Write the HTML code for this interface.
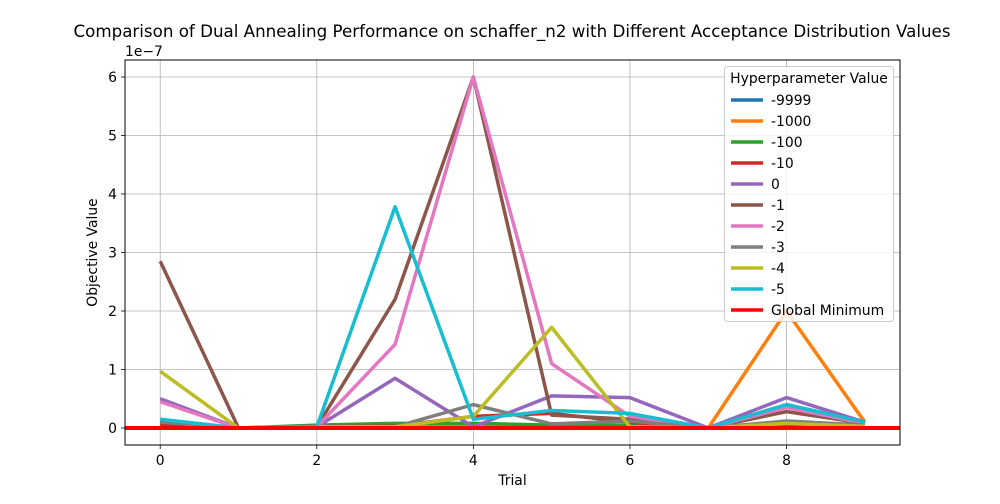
<!DOCTYPE html>
<html><head><meta charset="utf-8"><style>
body{margin:0;background:#fff;font-family:"DejaVu Sans","Liberation Sans",sans-serif}
svg text{font-family:"DejaVu Sans","Liberation Sans",sans-serif;fill:#000}
</style></head><body>
<svg id="chart" width="1000" height="500" xmlns="http://www.w3.org/2000/svg">
<rect width="1000" height="500" fill="#fff"/>
<text x="512" y="37" font-size="16.7" text-anchor="middle">Comparison of Dual Annealing Performance on schaffer_n2 with Different Acceptance Distribution Values</text>
<g id="grid"></g><g id="series"></g><g id="axes"></g><g id="legend"></g>
</svg>
<script>
const trials=[0,1,2,3,4,5,6,7,8,9];
const labels=["-9999","-1000","-100","-10","0","-1","-2","-3","-4","-5"];
const colors=["#1f77b4","#ff7f0e","#2ca02c","#d62728","#9467bd","#8c564b","#e377c2","#7f7f7f","#bcbd22","#17becf"];
const s_9999=[0.03,0.0,0.02,0.02,0.03,0.02,0.02,0.0,0.02,0.02];
const s_1000=[0.05,0.0,0.03,0.03,0.05,0.05,0.05,0.0,2.0,0.1];
const s_100=[0.1,0.0,0.05,0.08,0.08,0.05,0.05,0.0,0.4,0.1];
const s_10=[0.05,0.0,0.03,0.03,0.2,0.25,0.1,0.0,0.05,0.05];
const s_0=[0.5,0.0,0.02,0.85,0.02,0.55,0.52,0.0,0.52,0.1];
const s_1=[2.85,0.0,0.02,2.2,6.0,0.22,0.15,0.0,0.28,0.08];
const s_2=[0.45,0.0,0.02,1.43,6.0,1.1,0.2,0.0,0.35,0.08];
const s_3=[0.1,0.0,0.03,0.02,0.4,0.07,0.12,0.0,0.12,0.05];
const s_4=[0.97,0.0,0.02,0.02,0.2,1.72,0.02,0.0,0.08,0.03];
const s_5=[0.15,0.0,0.02,3.78,0.15,0.3,0.25,0.0,0.4,0.1];
const seriesData=[s_9999,s_1000,s_100,s_10,s_0,s_1,s_2,s_3,s_4,s_5];
const xTicks=[0,2,4,6,8];
const yTicks=[0,1,2,3,4,5,6];
const globalMin=0;
const L=125,R=900,T=60,B=445,xMin=-0.45,xMax=9.45,yMin=-0.29,yMax=6.29;
const X=v=>L+(v-xMin)/(xMax-xMin)*(R-L);
const Y=v=>B-(v-yMin)/(yMax-yMin)*(B-T);
const NS="http://www.w3.org/2000/svg";
const FS=13.9;
function mk(tag,attrs,parent){const e=document.createElementNS(NS,tag);for(const k in attrs)e.setAttribute(k,attrs[k]);parent.appendChild(e);return e;}
const grid=document.getElementById('grid'),ser=document.getElementById('series'),ax=document.getElementById('axes'),lg=document.getElementById('legend');
xTicks.forEach(t=>{
 const g=mk('line',{x1:X(t),x2:X(t),y1:T,y2:B,stroke:'#b0b0b0','stroke-width':0.8},grid);
 
 
 mk('line',{x1:X(t),x2:X(t),y1:B,y2:B+4,stroke:'#000','stroke-width':0.8},ax);
 const tx=mk('text',{x:X(t),y:B+20,'font-size':FS,'text-anchor':'middle'},ax);tx.textContent=t;
 
 
});
yTicks.forEach(t=>{
 const g=mk('line',{x1:L,x2:R,y1:Y(t),y2:Y(t),stroke:'#b0b0b0','stroke-width':0.8},grid);
 
 
 mk('line',{x1:L-4,x2:L,y1:Y(t),y2:Y(t),stroke:'#000','stroke-width':0.8},ax);
 const tx=mk('text',{x:L-8,y:Y(t)+5,'font-size':FS,'text-anchor':'end'},ax);tx.textContent=t;
 
 
});
seriesData.forEach((d,i)=>{
 const p=mk('polyline',{points:d.map((v,j)=>X(trials[j])+','+Y(v)).join(' '),fill:'none',stroke:colors[i],'stroke-width':3.5,'stroke-linejoin':'round'},ser);
 
 
});
const gm=mk('line',{x1:L,x2:R,y1:Y(globalMin),y2:Y(globalMin),stroke:'#ff0000','stroke-width':4},ser);


const fr=mk('rect',{x:L,y:T,width:R-L,height:B-T,fill:'none',stroke:'#000','stroke-width':1},ax);


const xt=mk('text',{x:(L+R)/2,y:485,'font-size':FS,'text-anchor':'middle'},ax);xt.textContent='Trial';


const yt=mk('text',{x:97,y:(T+B)/2,'font-size':FS,'text-anchor':'middle',transform:'rotate(-90 97 '+(T+B)/2+')'},ax);yt.textContent='Objective Value';


const ex=mk('text',{x:125,y:56,'font-size':FS},ax);ex.textContent='1e\u22127';


const box=mk('rect',{x:724.5,y:66.5,width:169,height:255,rx:3,fill:'#fff','fill-opacity':0.8,stroke:'#ccc'},lg);


const lt=mk('text',{x:809,y:83,'font-size':FS,'text-anchor':'middle'},lg);lt.textContent='Hyperparameter Value';


const entL=labels.concat(['Global Minimum']),entC=colors.concat(['#ff0000']);
entL.forEach((l,i)=>{
 const y=100+i*21;
 const g=mk('g',{},lg);
 
 
 mk('line',{x1:731,x2:763,y1:y,y2:y,stroke:entC[i],'stroke-width':3.5},g);
 const t=mk('text',{x:771,y:y+5,'font-size':FS},g);t.textContent=l;
});
</script>
</body></html>
